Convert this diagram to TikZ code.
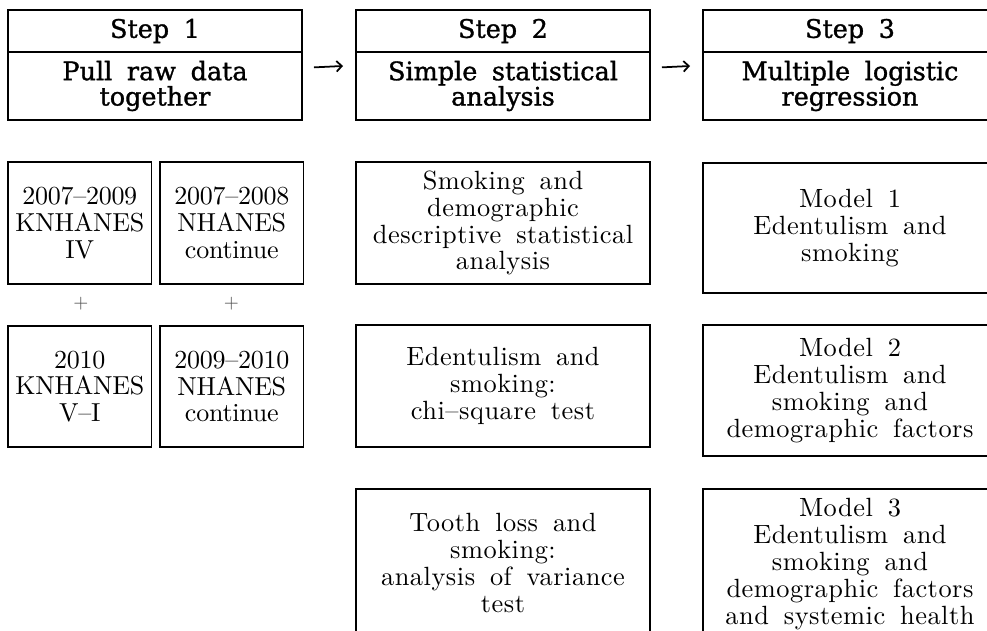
\documentclass[tikz,border=0pt]{standalone}
\usepackage{fontspec}
\usepackage{tikz}
\usetikzlibrary{arrows.meta,positioning}
\newfontfamily\bodyfont{lmroman10-regular.otf}[Ligatures=TeX,WordSpace=1.6,LetterSpace=2]
\newfontfamily\rawfont{lmroman10-regular.otf}[Ligatures=TeX,LetterSpace=-1]
\newfontfamily\headfont{DejaVu Serif}[Ligatures=TeX,WordSpace=1.8,FakeBold=1.2]
\tikzset{
  cell/.style={draw,line width=0.6pt,inner sep=0pt,outer sep=0pt,
    align=center,anchor=north west,
    font=\bodyfont\fontsize{15}{15.3}\selectfont},
  rawcell/.style={cell,minimum width=2.87cm,
    font=\rawfont\fontsize{14.8}{15.3}\selectfont},
  headcell/.style={cell,minimum width=5.88cm,
    font=\headfont\fontsize{14.5}{14.4}\selectfont},
  plus/.style={font=\bodyfont\fontsize{11}{11}\selectfont,text=black!70},
  flow/.style={-{Straight Barb[length=3pt,width=6pt]},line width=1pt,
    shorten <=0.24cm,shorten >=0.26cm}
}

\begin{document}
\begin{tikzpicture}
  \useasboundingbox (0,0) rectangle (19.74,-12.6);
  \clip (0,0) rectangle (19.74,-12.6);

  % steps
  \node[headcell,minimum height=0.84cm] (hd1) at (0.16,-0.2) {Step 1};
  \node[headcell,minimum height=1.36cm,below=0pt of hd1] (ti1)
    {Pull raw data\\together};
  \node[headcell,minimum height=0.84cm] (hd2) at (7.12,-0.2) {Step 2};
  \node[headcell,minimum height=1.36cm,below=0pt of hd2] (ti2)
    {Simple statistical\\analysis};
  \node[headcell,minimum height=0.84cm] (hd3) at (14.06,-0.2) {Step 3};
  \node[headcell,minimum height=1.36cm,below=0pt of hd3] (ti3)
    {Multiple logistic\\regression};
  \draw[flow] (ti1.7.7) -- (ti2.172.3);
  \draw[flow] (ti2.7.7) -- (ti3.172.3);

  % raw data
  \node[rawcell,minimum height=2.44cm] (kn1) at (0.16,-3.24)
    {2007--2009\\KNHANES\\IV};
  \node[rawcell,minimum height=2.44cm] (nh1) at (3.2,-3.24)
    {2007--2008\\NHANES\\continue};
  \node[rawcell,minimum height=2.42cm] (kn2) at (0.16,-6.52)
    {2010\\KNHANES\\V--I};
  \node[rawcell,minimum height=2.42cm] (nh2) at (3.2,-6.52)
    {2009--2010\\NHANES\\continue};
  \node[plus] (pk) at (1.62,-6.08) {+};
  \node[plus] (pn) at (4.63,-6.08) {+};

  % simple analysis
  \node[cell,minimum width=5.88cm,minimum height=2.44cm] (sa1) at (7.12,-3.24)
    {Smoking and\\demographic\\descriptive statistical\\analysis};
  \node[cell,minimum width=5.88cm,minimum height=2.44cm] (sa2) at (7.12,-6.5)
    {Edentulism and\\smoking:\\chi--square test};
  \node[cell,minimum width=5.88cm,minimum height=2.96cm] (sa3) at (7.12,-9.78)
    {Tooth loss and\\smoking:\\analysis of variance\\test};

  % models
  \node[cell,minimum width=5.88cm,minimum height=2.6cm] (md1) at (14.06,-3.26)
    {Model 1\\Edentulism and\\smoking};
  \node[cell,minimum width=5.88cm,minimum height=2.62cm] (md2) at (14.06,-6.5)
    {Model 2\\Edentulism and\\smoking and\\demographic factors};
  \node[cell,minimum width=5.88cm,minimum height=3.0cm] (md3) at (14.06,-9.78)
    {Model 3\\Edentulism and\\smoking and\\demographic factors\\and systemic health};
\end{tikzpicture}
\end{document}
